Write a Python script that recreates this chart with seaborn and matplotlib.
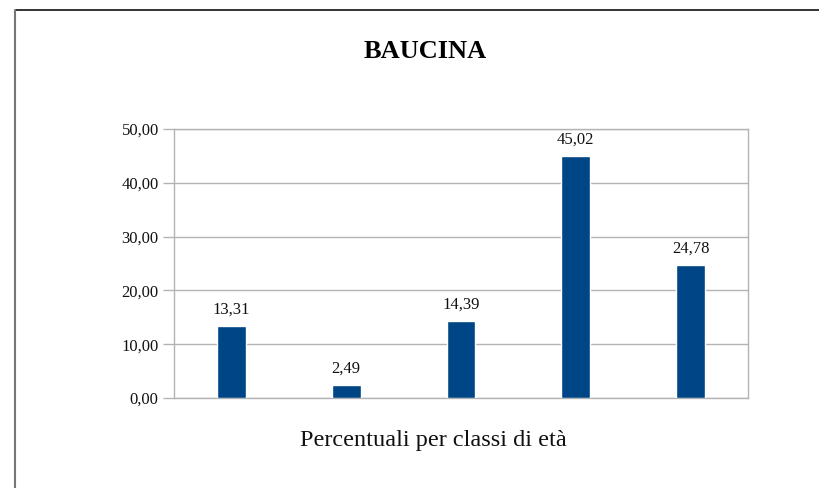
import matplotlib
matplotlib.use("Agg")
import matplotlib.pyplot as plt
import matplotlib.lines as mlines
import pandas as pd
import seaborn as sns

# data
classes = ["c1", "c2", "c3", "c4", "c5"]
percent = [13.31, 2.49, 14.39, 45.02, 24.78]
y_ticks = [0, 10, 20, 30, 40, 50]

title = "BAUCINA"
x_label = "Percentuali per classi di età"

BAR_COLOR = "#004586"
GRID_COLOR = "#b3b3b3"
TEXT_COLOR = "#111111"

sns.set_theme(style="white")
plt.rcParams["font.family"] = ["Liberation Serif", "DejaVu Serif"]

df = pd.DataFrame({"classe": classes, "perc": percent})

fig = plt.figure(figsize=(8.2, 4.88), dpi=100)
ax = fig.add_axes([174 / 820, 1 - 398 / 488, (748 - 174) / 820, (398 - 129) / 488])

sns.barplot(data=df, x="classe", y="perc", color=BAR_COLOR, width=0.25,
            saturation=1, ax=ax, zorder=3)

ax.set_xlim(-0.5, len(classes) - 0.5)
ax.set_ylim(0, 50)
ax.set_yticks(y_ticks)
ax.set_yticklabels([f"{t:.2f}".replace(".", ",") for t in y_ticks], fontsize=12, color=TEXT_COLOR)
ax.set_xticks([])
ax.set_xlabel("")
ax.set_ylabel("")
ax.yaxis.grid(True, color=GRID_COLOR, lw=1)
ax.tick_params(axis="y", length=8, width=1, color=GRID_COLOR, pad=3, left=True)
for s in ax.spines.values():
    s.set_color(GRID_COLOR)
    s.set_linewidth(1)

for i, v in enumerate(percent):
    ax.annotate(f"{v:.2f}".replace(".", ","), (i, v), xytext=(0, 6),
                textcoords="offset points", ha="center", va="bottom",
                fontsize=12, color=TEXT_COLOR)

fig.text(0.518, 0.895, title, ha="center", va="center", fontsize=19,
         fontweight="bold", color="black")
fig.text(0.528, 0.098, x_label, ha="center", va="center", fontsize=17.5, color=TEXT_COLOR)

# outer frame (top and left only, as in the reference)
fig.add_artist(mlines.Line2D([16 / 820, 1], [1 - 10 / 488, 1 - 10 / 488],
                             transform=fig.transFigure, color="#111111", lw=1.2))
fig.add_artist(mlines.Line2D([15 / 820, 15 / 820], [0, 1 - 10 / 488],
                             transform=fig.transFigure, color="#777777", lw=1.5))

fig.savefig("out.png", dpi=100, facecolor="white")
